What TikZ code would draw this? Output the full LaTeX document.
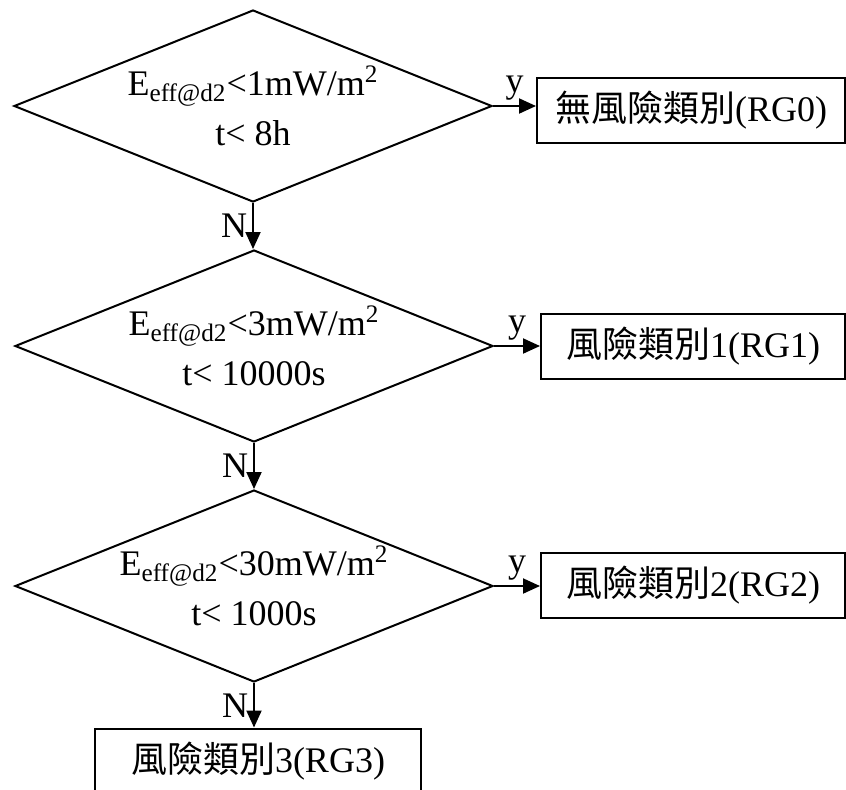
\documentclass[tikz,border=0pt]{standalone}
\usepackage{fontspec}
\setmainfont{Liberation Serif}
\newfontfamily\cjk{Noto Sans CJK TC}
\usetikzlibrary{arrows.meta, shapes.geometric}

\begin{document}
\begin{tikzpicture}[x=0.5pt,y=-0.5pt,
    font=\fontsize{18}{25}\selectfont,
    judge/.style={draw, diamond, aspect=2.49, line width=1pt,
        inner xsep=-20pt, inner ysep=-5pt,
        minimum width=239pt, minimum height=96pt, align=center},
    result/.style={draw, rectangle, line width=1pt, inner sep=0pt,
        minimum height=32.5pt},
    flow/.style={-{Triangle[length=8.5pt,width=7.5pt]}, line width=1pt},
    lbl/.style={inner sep=2.5pt}]
    \useasboundingbox (0,0) rectangle (846,789);
    \clip (0,0) rectangle (846,789);

    % 判断框
    \node[judge] (d1) at (253,106) {E\textsubscript{eff@d2}<1mW/m\textsuperscript{2}\\t< 8h};
    \node[judge] (d2) at (254,346) {E\textsubscript{eff@d2}<3mW/m\textsuperscript{2}\\t< 10000s};
    \node[judge] (d3) at (254,586) {E\textsubscript{eff@d2}<30mW/m\textsuperscript{2}\\t< 1000s};

    % 结果框
    \node[result, minimum width=154pt] (r1) at (691,110) {{\cjk 無風險類別}(RG0)};
    \node[result, minimum width=152pt] (r2) at (693,346) {{\cjk 風險類別}1(RG1)};
    \node[result, minimum width=152pt] (r3) at (693,585) {{\cjk 風險類別}2(RG2)};
    \node[result, minimum width=163pt] (r4) at (258,761) {{\cjk 風險類別}3(RG3)};

    % 是：向右
    \foreach \i in {1,2,3}
        \draw[flow] (d\i.east) -- (d\i.east -| r\i.west) node[midway, above, lbl] {y};

    % 否：向下
    \foreach \a/\b in {d1/d2,d2/d3,d3/r4}
        \draw[flow] (\a.south) -- (\a.south |- \b.north) node[midway, left, lbl] {N};
\end{tikzpicture}
\end{document}
